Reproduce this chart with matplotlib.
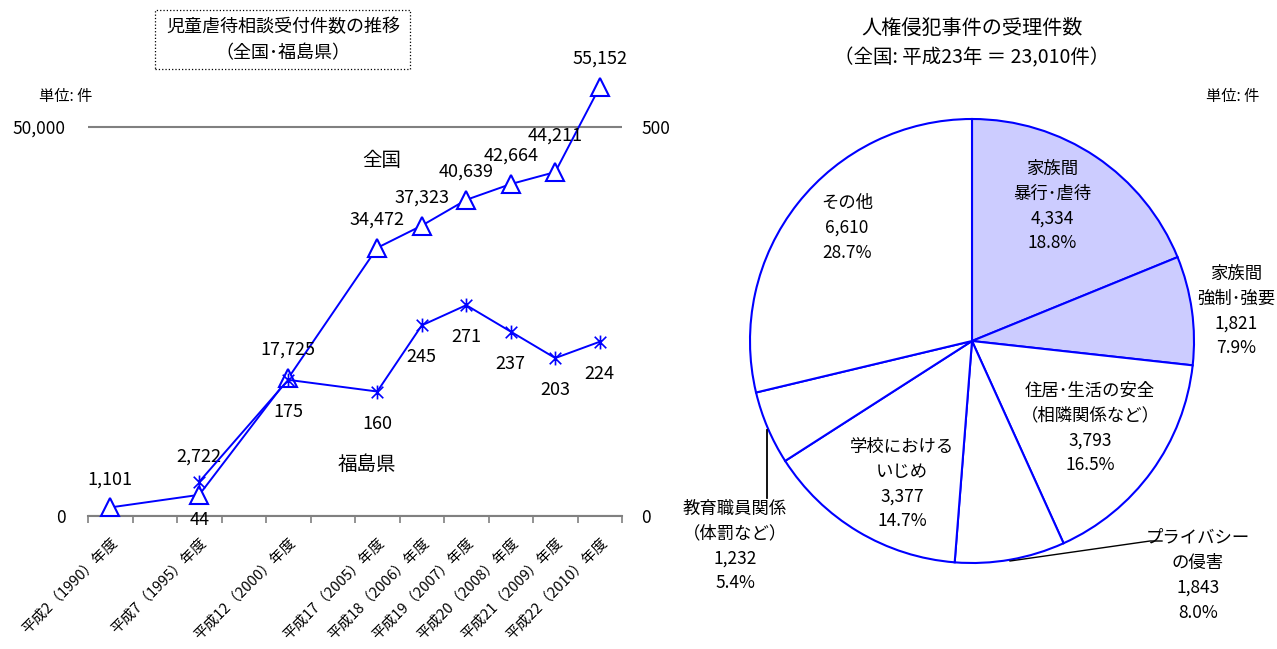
import matplotlib
matplotlib.use('Agg')
import matplotlib.pyplot as plt
import numpy as np
from matplotlib.patches import Rectangle
from matplotlib.lines import Line2D
from matplotlib.path import Path

plt.rcParams['font.family'] = ['Noto Sans CJK JP', 'DejaVu Sans']

# ---------------- data ----------------
categories = ['平成2（1990）年度', '', '平成7（1995）年度', '', '平成12（2000）年度', '',
              '平成17（2005）年度', '平成18（2006）年度', '平成19（2007）年度',
              '平成20（2008）年度', '平成21（2009）年度', '平成22（2010）年度']
national = [1101, None, 2722, None, 17725, None, 34472, 37323, 40639, 42664, 44211, 55152]
fukushima = [None, None, 44, None, 175, None, 160, 245, 271, 237, 203, 224]

pie_labels = ['家族間\n暴行･虐待', '家族間\n強制･強要', '住居･生活の安全\n（相隣関係など）',
              'プライバシー\nの侵害', '学校における\nいじめ', '教育職員関係\n（体罰など）', 'その他']
pie_values = [4334, 1821, 3793, 1843, 3377, 1232, 6610]

# ---------------- layout helpers ----------------
W, H = 1277, 649
fig = plt.figure(figsize=(W / 100, H / 100), dpi=100)


def fx(px):
    return px / W


def fy(py):
    return 1 - py / H


BLUE = '#0000FF'
GRAY = '#808080'

# ---------------- line chart ----------------
ax = fig.add_axes([fx(88), fy(516), fx(622) - fx(88), fy(49.2) - fy(516)])
ax2 = ax.twinx()

xn = [i for i, v in enumerate(national) if v is not None]
yn = [v for v in national if v is not None]
xf = [i for i, v in enumerate(fukushima) if v is not None]
yf = [v for v in fukushima if v is not None]

star = Path([(-1, -1), (1, 1), (-1, 1), (1, -1), (0, -1.2), (0, 1.2)],
            [Path.MOVETO, Path.LINETO, Path.MOVETO, Path.LINETO, Path.MOVETO, Path.LINETO])

ax.plot(xn, yn, color=BLUE, lw=1.4, marker='^', ms=12.5, mfc='white', mec=BLUE, mew=1.5,
        zorder=3, clip_on=False)
ax2.plot(xf, yf, color=BLUE, lw=1.4, marker=star, ms=10, mec=BLUE, mew=1.2,
         zorder=3, clip_on=False)

ax.set_xlim(-0.5, len(categories) - 0.5)
ax.set_ylim(0, 60000)
ax2.set_ylim(0, 600)

ax.set_yticks([0, 50000])
ax.set_yticklabels([f'{v:,}' for v in [0, 50000]], fontsize=12.5)
ax2.set_yticks([0, 500])
ax2.set_yticklabels([f'{v:,}' for v in [0, 500]], fontsize=12.5)
ax.tick_params(axis='y', length=0, pad=16)
ax2.tick_params(axis='y', length=0, pad=14)

ax.set_xticks(np.arange(-0.5, len(categories), 1))
ax.set_xticklabels([])
ax.set_xticks(np.arange(len(categories)), minor=True)
ax.set_xticklabels(categories, minor=True, rotation=45, ha='right', va='top',
                   rotation_mode='anchor', fontsize=10.5)
ax.tick_params(axis='x', which='major', length=5, width=1.2, color=GRAY, direction='out')
ax.tick_params(axis='x', which='minor', length=0, pad=14)

ax.yaxis.grid(True, color=GRAY, lw=1.5)
ax.set_axisbelow(True)
for s in ['top', 'left', 'right']:
    ax.spines[s].set_visible(False)
    ax2.spines[s].set_visible(False)
ax2.spines['bottom'].set_visible(False)
ax.spines['bottom'].set_color(GRAY)
ax.spines['bottom'].set_linewidth(1.5)
ax.patch.set_alpha(0)

nat_off = {2: 38, 10: 36}
for x, v in zip(xn, yn):
    ax.annotate(f'{v:,}', (x, v), xytext=(0, nat_off.get(x, 28)), textcoords='offset pixels',
                ha='center', va='center', fontsize=13)
fuk_off = {2: 38}
for x, v in zip(xf, yf):
    ax2.annotate(f'{v:,}', (x, v), xytext=(0, -fuk_off.get(x, 32)), textcoords='offset pixels',
                 ha='center', va='center', fontsize=13)

fig.text(fx(382), fy(160), '全国', ha='center', va='center', fontsize=14)
fig.text(fx(367), fy(464), '福島県', ha='center', va='center', fontsize=14)

# title box
fig.text(fx(283), fy(27), '児童虐待相談受付件数の推移', ha='center', va='center', fontsize=13)
fig.text(fx(283), fy(53), '（全国･福島県）', ha='center', va='center', fontsize=13)
fig.add_artist(Rectangle((fx(155), fy(69)), fx(410) - fx(155), fy(10) - fy(69),
                         transform=fig.transFigure, fill=False, ls=':', lw=0.9, ec='black'))
fig.text(fx(66), fy(96), '単位: 件', ha='center', va='center', fontsize=11)

# ---------------- pie chart ----------------
R = 222
cx, cy = 972, 341
pax = fig.add_axes([fx(cx - R), fy(cy + R), 2 * R / W, 2 * R / H])
fills = ['#CCCCFF', '#CCCCFF', 'white', 'white', 'white', 'white', 'white']
pax.pie(pie_values, startangle=90, counterclock=False, colors=fills, radius=1,
        wedgeprops=dict(edgecolor=BLUE, linewidth=1.5))
pax.set_xlim(-1, 1)
pax.set_ylim(-1, 1)
pax.axis('off')

total = sum(pie_values)
label_pos = [(1052, 206), (1236, 311), (1090, 428), (1198, 575), (902, 484), (735, 546), (847, 228)]
for lab, v, (px, py) in zip(pie_labels, pie_values, label_pos):
    fig.text(fx(px), fy(py), f'{lab}\n{v:,}\n{v / total * 100:.1f}%', ha='center', va='center',
             fontsize=12.5, linespacing=1.5)

fig.add_artist(Line2D([fx(767), fx(767)], [fy(430), fy(498)], transform=fig.transFigure,
                      color='black', lw=1.3))
fig.add_artist(Line2D([fx(1010), fx(1150), fx(1162)], [fy(561), fy(541), fy(541)],
                      transform=fig.transFigure, color='black', lw=1.0))

fig.text(fx(972), fy(28), '人権侵犯事件の受理件数', ha='center', va='center', fontsize=14.5)
fig.text(fx(972), fy(58), '（全国: 平成23年 ＝ 23,010件）', ha='center', va='center', fontsize=14)
fig.text(fx(1233), fy(96), '単位: 件', ha='center', va='center', fontsize=11)

fig.savefig('out.png', dpi=100)
